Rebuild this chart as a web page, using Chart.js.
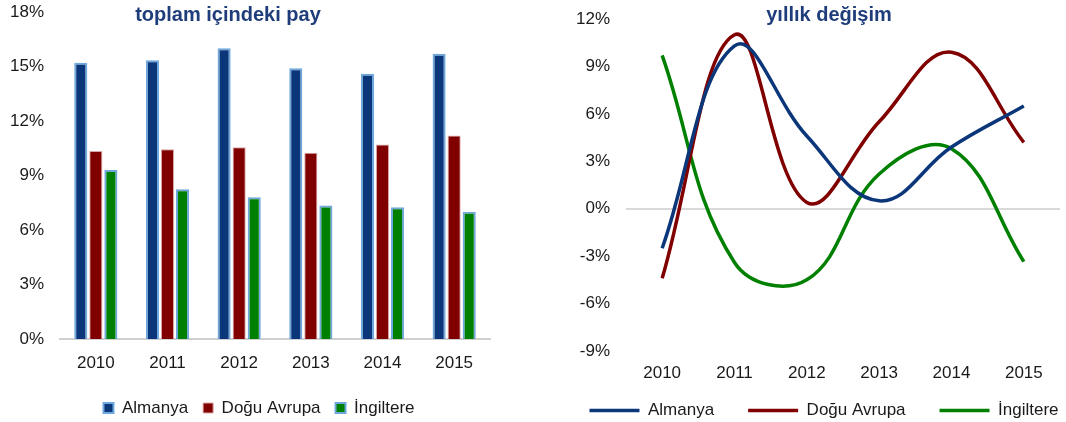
<!DOCTYPE html>
<html>
<head>
<meta charset="utf-8">
<script src="https://cdn.jsdelivr.net/npm/chart.js@4.4.1/dist/chart.umd.min.js"></script>
<style>
  html, body { margin: 0; padding: 0; background: #ffffff; overflow: hidden; }
  #wrap { position: relative; width: 1066px; height: 422px; overflow: hidden; }
  #c1 { position: absolute; left: 0; top: 0; }
  #c2 { position: absolute; left: 544px; top: 0; }
</style>
</head>
<body>
<div id="wrap">
  <canvas id="c1" width="518" height="422"></canvas>
  <canvas id="c2" width="560" height="422"></canvas>
</div>
<script>
// ---- data ----
const years = ['2010', '2011', '2012', '2013', '2014', '2015'];
const seriesNames = ['Almanya', 'Doğu Avrupa', 'İngiltere'];

// toplam içindeki pay (%)
const shareAlmanya = [15.2, 15.35, 16.0, 14.9, 14.6, 15.7];
const shareDoguAvrupa = [10.35, 10.45, 10.55, 10.25, 10.7, 11.2];
const shareIngiltere = [9.3, 8.25, 7.8, 7.35, 7.25, 7.0];
const shareTicks = [0, 3, 6, 9, 12, 15, 18];

// yıllık değişim (%)
const chgAlmanya = [-2.5, 10.3, 4.6, 0.5, 3.9, 6.5];
const chgDoguAvrupa = [-4.4, 11.0, 0.4, 5.5, 9.9, 4.2];
const chgIngiltere = [9.7, -3.4, -4.5, 2.2, 3.8, -3.35];
const chgTicks = [-9, -6, -3, 0, 3, 6, 9, 12];

const titleLeft = 'toplam içindeki pay';
const titleRight = 'yıllık değişim';

// ---- styles ----
const NAVY = '#0b377a';
const RED = '#800000';
const GREEN = '#008000';
const LIGHTBLUE = '#6fa8dc';
const FONT = "'Liberation Sans', Arial, sans-serif";

Chart.defaults.font.family = FONT;
Chart.defaults.font.size = 17;
Chart.defaults.color = '#1a1a1a';
Chart.defaults.animation = false;

function titlePlugin(text, cx, cy) {
  return {
    id: 'customTitle',
    afterDraw(chart) {
      const ctx = chart.ctx;
      ctx.save();
      ctx.font = "bold 20px " + FONT;
      ctx.fillStyle = '#1f3d7a';
      ctx.textAlign = 'center';
      ctx.textBaseline = 'middle';
      ctx.fillText(text, cx, cy);
      ctx.restore();
    }
  };
}

function legendShift(dy) {
  return {
    id: 'legendShift',
    afterLayout(chart) {
      if (chart.legend) { chart.legend.top += dy; chart.legend.bottom += dy; }
    }
  };
}

// invisible spacer axis on the right (keeps legend centred where the original has it)
function spacerAxis(w) {
  return {
    type: 'linear', position: 'right', display: true,
    grid: { display: false, drawTicks: false },
    border: { display: false },
    ticks: { display: false },
    afterFit(s) { s.width = w; s.paddingTop = 0; s.paddingBottom = 0; }
  };
}

// ---- left: bar chart ----
new Chart(document.getElementById('c1'), {
  type: 'bar',
  data: {
    labels: years,
    datasets: [
      { label: seriesNames[0], data: shareAlmanya, backgroundColor: NAVY, borderColor: LIGHTBLUE, borderWidth: 2 },
      { label: seriesNames[1], data: shareDoguAvrupa, backgroundColor: RED, borderColor: '#d9a6a6', borderWidth: 1 },
      { label: seriesNames[2], data: shareIngiltere, backgroundColor: GREEN, borderColor: LIGHTBLUE, borderWidth: 2 }
    ]
  },
  options: {
    responsive: false,
    maintainAspectRatio: false,
    categoryPercentage: 0.63,
    barPercentage: 0.87,
    layout: { padding: { top: 12, left: 0, right: 0, bottom: -4.5 } },
    plugins: {
      legend: {
        position: 'bottom',
        labels: { boxWidth: 10, boxHeight: 10, padding: 15, font: { size: 17 }, color: '#1a1a1a' }
      },
      tooltip: { enabled: false }
    },
    scales: {
      x: {
        grid: { display: false, drawTicks: false },
        border: { display: true, color: '#d0d0d0', width: 2 },
        ticks: { padding: 14, font: { size: 17 } },
        afterFit(s) { s.height = 45.5; }
      },
      y: {
        min: 0, max: 18,
        afterFit(s) { s.width = 60; s.paddingTop = 0; s.paddingBottom = 0; },
        afterBuildTicks(s) { s.ticks = shareTicks.map(v => ({ value: v })); },
        grid: { display: false, drawTicks: false },
        border: { display: false },
        ticks: { padding: 16, callback: v => v + '%', font: { size: 17 } }
      },
      yR: spacerAxis(28)
    }
  },
  plugins: [titlePlugin(titleLeft, 228, 15)]
});

// ---- right: line chart ----
new Chart(document.getElementById('c2'), {
  type: 'line',
  data: {
    labels: years,
    datasets: [
      { label: seriesNames[0], data: chgAlmanya, borderColor: NAVY, backgroundColor: NAVY, borderWidth: 3.5, pointRadius: 0, tension: 0.4 },
      { label: seriesNames[1], data: chgDoguAvrupa, borderColor: RED, backgroundColor: RED, borderWidth: 3.5, pointRadius: 0, tension: 0.4 },
      { label: seriesNames[2], data: chgIngiltere, borderColor: GREEN, backgroundColor: GREEN, borderWidth: 3.5, pointRadius: 0, tension: 0.4 }
    ]
  },
  options: {
    responsive: false,
    maintainAspectRatio: false,
    layout: { padding: { top: 19, left: 0, right: 0, bottom: -20 } },
    plugins: {
      legend: {
        position: 'bottom',
        labels: { usePointStyle: true, pointStyle: 'line', pointStyleWidth: 50, padding: 34, font: { size: 17 }, color: '#1a1a1a' }
      },
      tooltip: { enabled: false }
    },
    scales: {
      x: {
        offset: true,
        grid: { display: false, drawTicks: false },
        border: { display: false },
        ticks: { padding: 12, font: { size: 17 } },
        afterFit(s) { s.height = 30; }
      },
      y: {
        min: -9, max: 12,
        afterFit(s) { s.width = 82; s.paddingTop = 0; s.paddingBottom = 0; },
        afterBuildTicks(s) { s.ticks = chgTicks.map(v => ({ value: v })); },
        grid: { drawTicks: false, lineWidth: 2, color: c => (c.tick && c.tick.value === 0) ? '#d9d9d9' : 'rgba(0,0,0,0)' },
        border: { display: false },
        ticks: { padding: 16, callback: v => v + '%', font: { size: 17 } }
      },
      yR: spacerAxis(44)
    }
  },
  plugins: [titlePlugin(titleRight, 285, 15), legendShift(-13)]
});
</script>
</body>
</html>
